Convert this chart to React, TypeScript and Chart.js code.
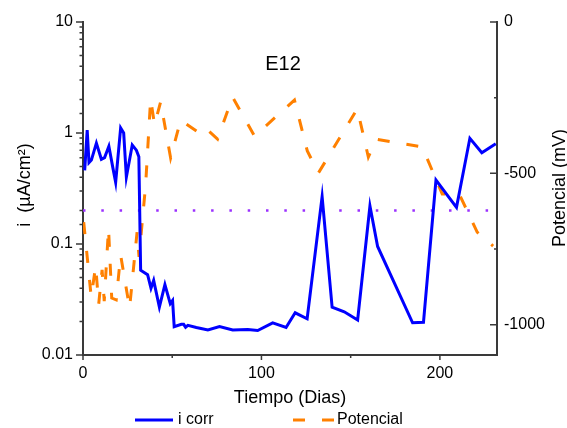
import React, { useEffect, useRef } from "react";
import { Chart, registerables } from "chart.js";

Chart.register(...registerables);

const FONT = "'Liberation Sans', Arial, sans-serif";

// Corrosion current density (µA/cm²) against time (days)
const corrDays = [
  0.95, 2.35, 3.36, 4.7, 7.5, 10.3, 12.1, 14.5, 16.8, 18.3, 21.1, 22.8, 24.3, 27.6, 29.9,
  31.3, 32.3, 36.2, 38.1, 39.6, 42.8, 45.9, 48.9, 50.2, 51.1, 55.1, 56.4, 57.5, 58.8, 63.5,
  70.0, 76.5, 83.9, 92.3, 97.9, 106.3, 113.8, 118.9, 125.6, 134.0, 139.6, 146.4, 153.9,
  160.8, 165.1, 184.7, 190.8, 197.8, 209.3, 216.8, 223.5, 231.3,
];
const corrValues = [
  0.46, 1.06, 0.54, 0.57, 0.81, 0.58, 0.6, 0.76, 0.48, 0.36, 1.11, 1.0, 0.4, 0.78, 0.7,
  0.61, 0.058, 0.053, 0.04, 0.047, 0.027, 0.043, 0.029, 0.031, 0.018, 0.0189, 0.0189, 0.0178,
  0.0185, 0.0177, 0.0168, 0.018, 0.0168, 0.017, 0.0166, 0.0195, 0.0177, 0.024, 0.0212, 0.267,
  0.027, 0.0245, 0.0207, 0.22, 0.095, 0.0195, 0.0197, 0.377, 0.214, 0.896, 0.665, 0.8,
];

// Corrosion potential (mV) against time (days)
const potDays = [
  0.4, 4.6, 7.1, 8.8, 10.7, 11.9, 14.3, 16.1, 18.6, 21.1, 26.1, 30.3, 31.4, 35.1, 37.9,
  40.1, 43.5, 49.1, 54.7, 65.3, 68.6, 75.4, 83.8, 96.1, 118.5, 125.7, 131.9, 153.7, 159.9,
  164.4, 190.1, 201.3, 210.8, 220.9, 229.8,
];
const potValues = [
  -661, -908, -806, -932, -819, -922, -681, -912, -918, -770, -945, -694, -776, -538, -254,
  -340, -264, -449, -324, -367, -350, -387, -248, -377, -258, -426, -499, -287, -446,
  -387, -413, -568, -568, -694, -740,
];

// Reference current level
const refDays = [0, 232];
const refValues = [0.2, 0.2];

const seriesLabels = ["i corr", "Potencial"];
const xTickLabels = [0, 100, 200];
const yTickLabels = [0.01, 0.1, 1, 10];
const y1TickLabels = [-1000, -500, 0];
const chartTitle = "E12";
const xTitle = "Tiempo (Dias)";
const yTitle = "i  (µA/cm²)";
const y1Title = "Potencial (mV)";

const BLUE = "#0000FF";
const ORANGE = "#FF8000";
const VIOLET = "#9B30FF";
const AXIS = "#3a3a3a";
const POT_DASH = [12, 17];

const matchLabel = (list: number[], v: number) =>
  list.find((l) => Math.abs(l - v) <= Math.abs(l) * 1e-6 + 1e-9);

const decorations = {
  id: "decorations",
  afterDraw(chart: any) {
    const { ctx, chartArea: a, scales } = chart;
    const xs = scales.x;
    const ys = scales.y;
    const y1s = scales.y1;
    ctx.save();

    // tick marks
    ctx.strokeStyle = AXIS;
    ctx.lineWidth = 1.5;
    ctx.beginPath();
    xs.ticks.forEach((t: any) => {
      const px = xs.getPixelForValue(t.value);
      const len = matchLabel(xTickLabels, t.value) !== undefined ? 5 : 3;
      ctx.moveTo(px, a.bottom);
      ctx.lineTo(px, a.bottom + len);
    });
    ys.ticks.forEach((t: any) => {
      const py = ys.getPixelForValue(t.value);
      const len = matchLabel(yTickLabels, t.value) !== undefined ? 7 : 3.5;
      ctx.moveTo(a.left - len, py);
      ctx.lineTo(a.left, py);
    });
    y1s.ticks.forEach((t: any) => {
      const py = y1s.getPixelForValue(t.value);
      const len = matchLabel(y1TickLabels, t.value) !== undefined ? 7 : 3;
      ctx.moveTo(a.right - len, py);
      ctx.lineTo(a.right, py);
    });
    ctx.stroke();

    ctx.fillStyle = "#000";
    ctx.textAlign = "center";
    ctx.textBaseline = "alphabetic";

    // chart label
    ctx.font = `20px ${FONT}`;
    ctx.fillText(chartTitle, 283, 70);

    // axis titles
    ctx.font = `18px ${FONT}`;
    ctx.fillText(xTitle, (a.left + a.right) / 2, 403);

    ctx.save();
    ctx.translate(30, 185);
    ctx.rotate(-Math.PI / 2);
    ctx.fillText(yTitle, 0, 0);
    ctx.restore();

    ctx.save();
    ctx.translate(565, 188);
    ctx.rotate(-Math.PI / 2);
    ctx.fillText(y1Title, 0, 0);
    ctx.restore();

    // legend
    const ly = 420;
    const ds = chart.data.datasets;
    ctx.lineWidth = 3;
    ctx.strokeStyle = ds[0].borderColor;
    ctx.setLineDash([]);
    ctx.beginPath();
    ctx.moveTo(135, ly);
    ctx.lineTo(173, ly);
    ctx.stroke();
    ctx.strokeStyle = ds[1].borderColor;
    ctx.setLineDash(POT_DASH);
    ctx.beginPath();
    ctx.moveTo(293, ly);
    ctx.lineTo(334, ly);
    ctx.stroke();
    ctx.setLineDash([]);
    ctx.font = `16px ${FONT}`;
    ctx.textAlign = "left";
    ctx.textBaseline = "middle";
    ctx.fillText(seriesLabels[0], 178, ly);
    ctx.fillText(seriesLabels[1], 337, ly);

    ctx.restore();
  },
};

const tickFont = { family: FONT, size: 16 };

export default function App() {
  const ref = useRef<HTMLCanvasElement>(null);

  useEffect(() => {
    const canvas = ref.current;
    if (!canvas) return;
    const chart = new Chart(canvas, {
      type: "line",
      data: {
        datasets: [
          {
            label: seriesLabels[0],
            data: corrDays.map((d, i) => ({ x: d, y: corrValues[i] })),
            yAxisID: "y",
            borderColor: BLUE,
            borderWidth: 3,
            pointRadius: 0,
            tension: 0,
            fill: false,
          },
          {
            label: seriesLabels[1],
            data: potDays.map((d, i) => ({ x: d, y: potValues[i] })),
            yAxisID: "y1",
            borderColor: ORANGE,
            borderWidth: 3,
            borderDash: POT_DASH,
            pointRadius: 0,
            tension: 0,
            fill: false,
          },
          {
            label: "ref",
            data: refDays.map((d, i) => ({ x: d, y: refValues[i] })),
            yAxisID: "y",
            borderColor: VIOLET,
            borderWidth: 2.5,
            borderDash: [2.5, 15.8],
            pointRadius: 0,
            fill: false,
          },
        ],
      },
      options: {
        animation: false,
        responsive: false,
        maintainAspectRatio: false,
        layout: { padding: { top: 22, left: 0, right: 0, bottom: 0 } },
        plugins: {
          legend: { display: false },
          title: { display: false },
          tooltip: { enabled: false },
        },
        scales: {
          x: {
            type: "linear",
            position: "bottom",
            min: 0,
            max: 232,
            grid: { display: false, drawTicks: false },
            border: { display: true, color: AXIS, width: 2 },
            ticks: {
              stepSize: 50,
              includeBounds: false,
              autoSkip: false,
              maxRotation: 0,
              padding: 9,
              color: "#000",
              font: tickFont,
              callback: (v: any) => {
                const m = matchLabel(xTickLabels, Number(v));
                return m === undefined ? "" : String(m);
              },
            },
            afterFit: (s: any) => {
              s.height = 73;
            },
          },
          y: {
            type: "logarithmic",
            position: "left",
            min: 0.01,
            max: 10,
            grid: { display: false, drawTicks: false },
            border: { display: true, color: AXIS, width: 2 },
            ticks: {
              autoSkip: false,
              padding: 10,
              color: "#000",
              font: tickFont,
              callback: (v: any) => {
                const m = matchLabel(yTickLabels, Number(v));
                return m === undefined ? "" : String(m);
              },
            },
            afterFit: (s: any) => {
              s.width = 83;
            },
          },
          y1: {
            type: "linear",
            position: "right",
            min: -1100,
            max: 0,
            grid: { display: false, drawTicks: false },
            border: { display: true, color: AXIS, width: 2 },
            ticks: {
              stepSize: 250,
              includeBounds: false,
              autoSkip: false,
              padding: 7,
              color: "#000",
              font: tickFont,
              callback: (v: any) => {
                const m = matchLabel(y1TickLabels, Number(v));
                return m === undefined ? "" : String(m);
              },
            },
            afterFit: (s: any) => {
              s.width = 70;
            },
          },
        },
      },
      plugins: [decorations],
    } as any);
    return () => chart.destroy();
  }, []);

  return (
    <div
      style={{
        position: "absolute",
        left: 0,
        top: 0,
        width: 567,
        height: 428,
        background: "#fff",
      }}
    >
      <canvas ref={ref} width={567} height={428} style={{ display: "block", width: 567, height: 428 }} />
    </div>
  );
}
